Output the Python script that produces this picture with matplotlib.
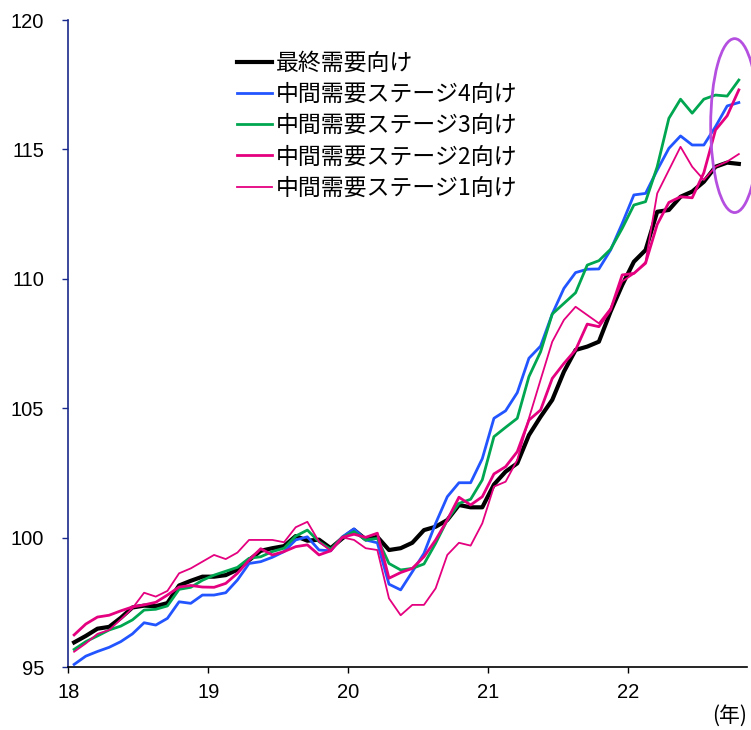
import numpy as np
import matplotlib
matplotlib.use("Agg")
import matplotlib.pyplot as plt
from matplotlib.patches import Ellipse

plt.rcParams["font.family"] = ["Liberation Sans", "Noto Sans CJK JP"]

# monthly index, 2018/1 - 2022/10
final_demand = [95.95, 96.2, 96.48, 96.55, 96.9, 97.3, 97.37, 97.35, 97.47, 98.15, 98.33, 98.49,
                98.49, 98.55, 98.76, 99.13, 99.49, 99.59, 99.67, 100.06, 99.88, 99.92, 99.59, 99.97,
                100.3, 99.93, 100.03, 99.52, 99.59, 99.8, 100.29, 100.42, 100.68, 101.26, 101.17, 101.17,
                102.05, 102.55, 102.87, 103.96, 104.67, 105.32, 106.41, 107.25, 107.38, 107.57, 108.73, 109.76,
                110.66, 111.11, 112.59, 112.66, 113.17, 113.37, 113.75, 114.33, 114.49, 114.44]
stage4 = [95.1, 95.42, 95.6, 95.76, 95.98, 96.28, 96.71, 96.62, 96.88, 97.52, 97.46, 97.78,
          97.78, 97.87, 98.36, 99.0, 99.07, 99.24, 99.46, 99.91, 100.03, 99.52, 99.49, 100.03,
          100.34, 99.91, 99.8, 98.2, 97.98, 98.68, 99.39, 100.55, 101.58, 102.12, 102.12, 103.05,
          104.61, 104.9, 105.6, 106.93, 107.4, 108.64, 109.63, 110.24, 110.37, 110.38, 111.11, 112.14,
          113.24, 113.3, 114.2, 115.04, 115.52, 115.17, 115.17, 115.88, 116.68, 116.81]
stage3 = [95.68, 95.98, 96.2, 96.43, 96.58, 96.82, 97.2, 97.23, 97.36, 98.0, 98.08, 98.35,
          98.55, 98.7, 98.85, 99.2, 99.26, 99.46, 99.59, 100.06, 100.29, 99.84, 99.55, 100.01,
          100.23, 99.91, 99.97, 99.0, 98.75, 98.81, 98.98, 99.78, 100.68, 101.32, 101.48, 102.23,
          103.9, 104.26, 104.61, 106.22, 107.18, 108.64, 109.05, 109.46, 110.53, 110.7, 111.14, 111.95,
          112.85, 112.98, 114.33, 116.2, 116.94, 116.4, 116.94, 117.1, 117.06, 117.68]
stage2 = [96.24, 96.66, 96.93, 97.0, 97.17, 97.32, 97.4, 97.5, 97.78, 98.09, 98.15, 98.09,
          98.08, 98.23, 98.62, 99.13, 99.57, 99.33, 99.46, 99.65, 99.72, 99.33, 99.49, 100.01,
          100.13, 100.01, 100.17, 98.43, 98.65, 98.81, 99.26, 99.91, 100.68, 101.56, 101.26, 101.58,
          102.46, 102.74, 103.32, 104.54, 104.93, 106.15, 106.73, 107.25, 108.25, 108.15, 108.8, 110.15,
          110.21, 110.6, 112.1, 112.95, 113.17, 113.13, 114.1, 115.75, 116.3, 117.3]
stage1 = [95.59, 95.91, 96.28, 96.43, 96.84, 97.27, 97.87, 97.72, 97.94, 98.62, 98.81, 99.07,
          99.33, 99.17, 99.42, 99.91, 99.91, 99.91, 99.82, 100.4, 100.61, 99.84, 99.49, 100.01,
          99.91, 99.59, 99.52, 97.65, 97.0, 97.4, 97.4, 98.04, 99.33, 99.8, 99.69, 100.55,
          101.97, 102.16, 103.0, 104.61, 106.1, 107.57, 108.41, 108.92, 108.6, 108.28, 108.86, 109.9,
          110.2, 110.65, 113.3, 114.2, 115.1, 114.33, 113.82, 114.33, 114.53, 114.82]

labels = ["最終需要向け", "中間需要ステージ4向け", "中間需要ステージ3向け",
          "中間需要ステージ2向け", "中間需要ステージ1向け"]
colors = ["#000000", "#2255FF", "#00A650", "#E4007F", "#E4007F"]
widths = [3.0, 2.0, 2.0, 2.0, 1.3]

year_labels = ["18", "19", "20", "21", "22"]

W, H = 751, 730
fig = plt.figure(figsize=(W / 100, H / 100), dpi=100)
ax = fig.add_axes([68.3 / W, 63 / H, (747 - 68.3) / W, 647 / H])

x = np.arange(len(final_demand)) + 0.5
series = [final_demand, stage4, stage3, stage2, stage1]
for i, (s, c, lw, lab) in enumerate(zip(series, colors, widths, labels)):
    ax.plot(x, s, color=c, lw=lw, label=lab, zorder=2 + i)

ax.set_xlim(0, 58.2)
ax.set_ylim(95, 120)
ax.set_xticks(np.arange(len(year_labels)) * 12, year_labels)
ax.set_yticks(range(95, 121, 5))

navy = "#1A2A8C"
for side in ["top", "right"]:
    ax.spines[side].set_visible(False)
ax.spines["left"].set_color(navy)
ax.spines["left"].set_linewidth(1.2)
ax.spines["bottom"].set_color("black")
ax.spines["bottom"].set_linewidth(1.2)
ax.tick_params(axis="y", length=4.3, width=1, color=navy, pad=13, labelsize=14.5)
ax.tick_params(axis="x", length=4.3, width=1, pad=7, labelsize=14.5)

leg = ax.legend(loc="upper left", bbox_to_anchor=(236.5 / W, 1 - 52 / H),
                bbox_transform=fig.transFigure, frameon=False, borderpad=0,
                borderaxespad=0, handlelength=1.53, handletextpad=0.18,
                labelspacing=0.355, prop={"family": "Noto Sans CJK JP", "size": 16.5})

# highlight of latest values
ax.add_patch(Ellipse((57.14, 115.92), width=4.11, height=6.72, fill=False,
                     edgecolor="#B44FE0", lw=2, clip_on=False, zorder=10))

fig.text(747 / W, 1 - 716 / H, "(年)", ha="right", va="center", fontsize=15,
         family="Noto Sans CJK JP")

fig.savefig("out.png", dpi=100)
